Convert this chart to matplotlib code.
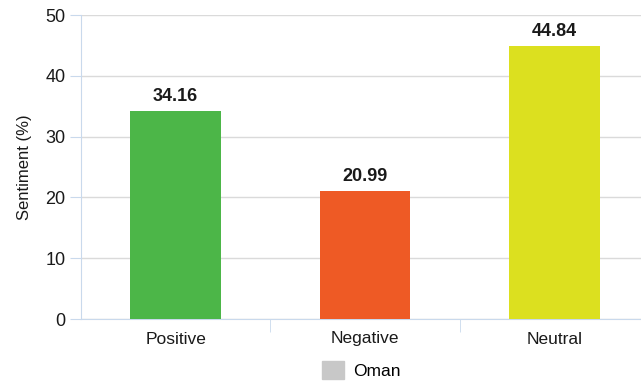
import matplotlib.pyplot as plt
from matplotlib.patches import Patch

plt.rcParams["font.family"] = ["Liberation Sans", "DejaVu Sans"]

categories = ["Positive", "Negative", "Neutral"]
values = [34.16, 20.99, 44.84]
bar_colors = ["#4cb648", "#ee5a25", "#dce01f"]
yticks = [0, 10, 20, 30, 40, 50]

fig = plt.figure(figsize=(6.41, 3.82), dpi=100)
ax = fig.add_axes([81 / 641, 1 - 319 / 382, 568 / 641, 304 / 382])

x = range(len(categories))
ax.bar(x, values, width=0.48, color=bar_colors, zorder=3)
for xi, v in zip(x, values):
    ax.text(xi, v + 1.0, f"{v:.2f}", ha="center", va="bottom",
            fontsize=13, fontweight="bold", color="#1a1a1a")

ax.set_xlim(-0.5, 2.5)
ax.set_ylim(0, 50)
ax.set_yticks(yticks)
ax.set_xticks(list(x))
ax.set_xticklabels(categories, fontsize=12.5, color="#1a1a1a")
ax.tick_params(axis="x", length=0, pad=9)
ax.tick_params(axis="y", length=8, color="#c9d9ec", labelsize=13,
               labelcolor="#1a1a1a", pad=3)
# category boundary ticks
ax.set_xticks([0.5, 1.5], minor=True)
ax.tick_params(axis="x", which="minor", length=9, color="#c9d9ec", direction="out")

ax.grid(axis="y", color="#dadada", linewidth=1, zorder=0)
for side in ["top", "right"]:
    ax.spines[side].set_visible(False)
for side in ["left", "bottom"]:
    ax.spines[side].set_color("#c9d9ec")

ax.set_ylabel("Sentiment (%)", fontsize=12, labelpad=10, color="#1a1a1a")

fig.legend(handles=[Patch(color="#c8c8c8", label="Oman")],
           loc="center", bbox_to_anchor=(361 / 641, 1 - 370 / 382),
           frameon=False, fontsize=12.5, handlelength=1.3, handleheight=1.2,
           handletextpad=0.5)

fig.savefig("out.png", dpi=100)
